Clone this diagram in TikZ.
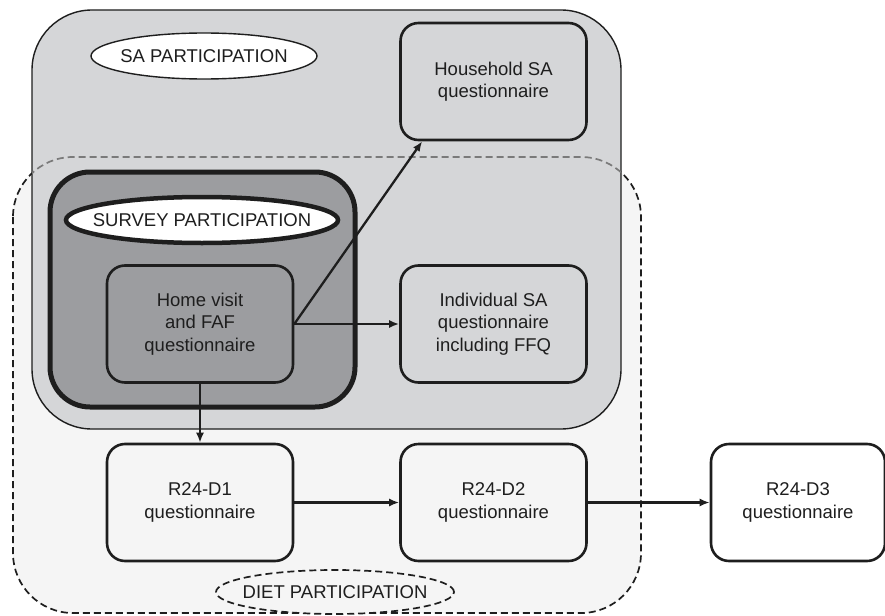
\documentclass[tikz,border=0pt]{standalone}
\usepackage{fontspec}
\setmainfont{Liberation Sans}
\usetikzlibrary{arrows.meta}
\definecolor{saFill}{HTML}{D5D6D8}
\definecolor{dietFill}{HTML}{F5F5F5}
\definecolor{survFill}{HTML}{9C9DA0}
\definecolor{lineCol}{HTML}{1E1E1E}
\definecolor{grayDash}{HTML}{7A7A7A}
\begin{document}
\begin{tikzpicture}[x=1pt,y=-1pt,
  font=\fontsize{18.5}{22.5}\selectfont,
  qbox/.style={draw=lineCol, line width=2.6pt, rounded corners=18pt, align=center, inner sep=0pt,
    minimum width=186pt, minimum height=117pt, text=lineCol},
  arr/.style={-{Latex[length=10pt,width=8pt]}, line width=2.3pt, draw=lineCol},
  dietdash/.style={dash pattern=on 7pt off 4pt, line width=1.7pt},
  lab/.style={inner sep=0pt, text=lineCol}]
\useasboundingbox (0,0) rectangle (885,615);
% diet region
\path[fill=dietFill, rounded corners=60pt] (13,157) rectangle (641,613);
\draw[dietdash, draw=lineCol, rounded corners=60pt] (13,157) rectangle (641,613);
% SA region
\draw[fill=saFill, draw=lineCol, line width=1.4pt, rounded corners=60pt] (32,10) rectangle (621,429);
\begin{scope}
  \clip[rounded corners=60pt] (32,10) rectangle (621,429);
  \draw[dietdash, draw=grayDash, rounded corners=60pt] (13,157) rectangle (641,613);
\end{scope}
% survey region
\draw[fill=survFill, draw=lineCol, line width=5pt, rounded corners=40pt] (50,172) rectangle (355,407);
% label ellipses
\coordinate (saC) at (204,56);
\coordinate (survC) at (202,220);
\coordinate (dietC) at (335,592);
\draw[fill=white, draw=lineCol, line width=1.4pt] (saC) ellipse [x radius=113pt, y radius=23pt];
\draw[fill=white, draw=lineCol, line width=4.5pt] (survC) ellipse [x radius=136pt, y radius=23pt];
\draw[fill=dietFill, draw=lineCol, dietdash] (dietC) ellipse [x radius=119pt, y radius=22pt];
\node[lab] (saLab) at (saC) {SA PARTICIPATION};
\node[lab] (survLab) at (survC) {SURVEY PARTICIPATION};
\node[lab] (dietLab) at (dietC) {DIET PARTICIPATION};
% boxes
\node[qbox, fill=survFill] (home) at (200,324) {Home visit\\and FAF\\questionnaire};
\node[qbox, fill=saFill] (house) at (493.5,81.5) {Household SA\\questionnaire};
\node[qbox, fill=saFill] (indiv) at (493.5,324) {Individual SA\\questionnaire\\including FFQ};
\node[qbox, fill=dietFill] (d1) at (200,502.5) {R24-D1\\questionnaire};
\node[qbox, fill=dietFill] (d2) at (493.5,502.5) {R24-D2\\questionnaire};
\node[qbox, fill=white, minimum width=174pt] (d3) at (798,502.5) {R24-D3\\questionnaire};
% arrows
\draw[arr] (home.east) -- ([xshift=23pt]house.south west);
\draw[arr] (home.east) -- (indiv.west);
\draw[arr] (home.south) -- (d1.north);
\draw[arr] (d1.east) -- (d2.west);
\draw[arr] (d2.east) -- (d3.west);
\end{tikzpicture}
\end{document}
